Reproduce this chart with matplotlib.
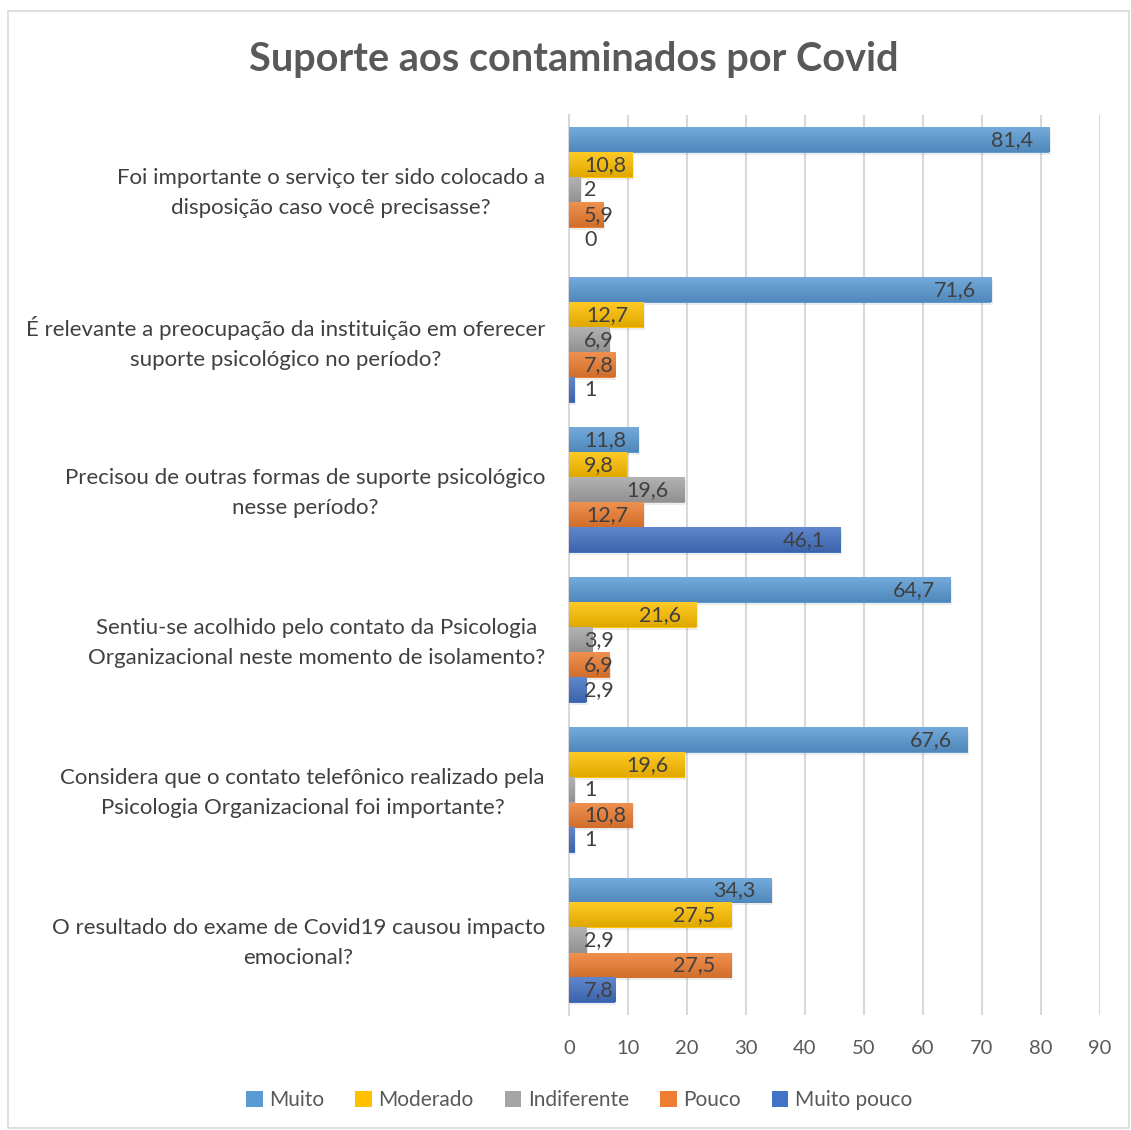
import numpy as np
import matplotlib.pyplot as plt
import matplotlib.colors as mcolors
import matplotlib.transforms as mtransforms
from matplotlib.patches import Rectangle

plt.rcParams['font.family'] = ['Lato', 'DejaVu Sans']

categories = [
    "Foi importante o serviço ter sido colocado a\ndisposição caso você precisasse?",
    "É relevante a preocupação da instituição em oferecer\nsuporte psicológico no período?",
    "Precisou de outras formas de suporte psicológico\nnesse período?",
    "Sentiu-se acolhido pelo contato da Psicologia\nOrganizacional neste momento de isolamento?",
    "Considera que o contato telefônico realizado pela\nPsicologia Organizacional foi importante?",
    "O resultado do exame de Covid19 causou impacto\nemocional?",
]
series = ["Muito", "Moderado", "Indiferente", "Pouco", "Muito pouco"]
muito = [81.4, 71.6, 11.8, 64.7, 67.6, 34.3]
moderado = [10.8, 12.7, 9.8, 21.6, 19.6, 27.5]
indiferente = [2, 6.9, 19.6, 3.9, 1, 2.9]
pouco = [5.9, 7.8, 12.7, 6.9, 10.8, 27.5]
muito_pouco = [0, 1, 46.1, 2.9, 1, 7.8]
values = [muito, moderado, indiferente, pouco, muito_pouco]
colors = ["#5B9BD5", "#FFC000", "#A5A5A5", "#ED7D31", "#4472C4"]

W, H = 1131, 1130
fig = plt.figure(figsize=(W / 100, H / 100), dpi=100)
ax = fig.add_axes([569 / W, 1 - 1015 / H, 531 / W, 900 / H])

# chart border
fig.patches.append(Rectangle((8 / W, 2 / H), 1121 / W, 1117 / H, transform=fig.transFigure,
                             fill=False, edgecolor="#D9D9D9", linewidth=1.2))

y = np.arange(len(categories))
h = 1 / 6

def gradient(color):
    c = np.array(mcolors.to_rgb(color))
    top = c + (1 - c) * 0.15
    bot = c * 0.88
    t = np.linspace(0, 1, 32)[:, None]
    return (top * (1 - t) + bot * t)[:, None, :]

for j, (name, vals, col) in enumerate(zip(series, values, colors)):
    pos = y + (j - 2) * h
    # soft shadow
    ax.barh(pos + 0.015, vals, height=h, left=0.25, color="#000000", alpha=0.07,
            zorder=2, linewidth=0)
    bars = ax.barh(pos, vals, height=h, color=col, label=name, zorder=3, linewidth=0)
    img = gradient(col)
    for b in bars:
        x0, y0 = b.get_x(), b.get_y()
        if b.get_width() <= 0:
            continue
        ax.imshow(img, extent=(x0, x0 + b.get_width(), y0 + h, y0), aspect="auto",
                  zorder=3.5, interpolation="bilinear")

ax.set_xlim(0, 90)
ax.set_ylim(5.5, -0.5)

fig.canvas.draw()
renderer = fig.canvas.get_renderer()
inv = ax.transData.inverted()
for j, vals in enumerate(values):
    pos = y + (j - 2) * h
    for p, v in zip(pos, vals):
        lab = f"{v:g}".replace(".", ",")
        t = ax.text(2.55, p, lab, ha="left", va="center", fontsize=15.5,
                    color="#404040", zorder=5)
        bb = t.get_window_extent(renderer)
        wdata = inv.transform((bb.x1, 0))[0] - inv.transform((bb.x0, 0))[0]
        if 2.55 + wdata < v - 2.7:
            t.set_x(v - 2.7)
            t.set_ha("right")

# category labels (drawn as text so they can be nudged)
ax.set_yticks([])
lab_trans = mtransforms.blended_transform_factory(ax.transAxes, ax.transData) + \
    mtransforms.ScaledTranslation(-24 / 100, -3 / 100, fig.dpi_scale_trans)
for yi, cat in zip(y, categories):
    ax.text(0, yi, cat, transform=lab_trans, ha="right", va="center", fontsize=16,
            color="#404040", multialignment="center", linespacing=1.62)

ax.set_xticks(np.arange(0, 91, 10))
ax.tick_params(axis="x", length=0, pad=18, labelsize=14.5, labelcolor="#595959")
ax.grid(axis="x", color="#D9D9D9", linewidth=1.5, zorder=0)
ax.set_axisbelow(True)
for s in ["top", "right", "bottom"]:
    ax.spines[s].set_visible(False)
ax.spines["left"].set_color("#D9D9D9")
ax.spines["left"].set_linewidth(1.5)

fig.text(574 / W, 1 - 60 / H, "Suporte aos contaminados por Covid", ha="center", va="center",
         fontsize=28.5, fontweight="bold", color="#595959")

handles, labels = ax.get_legend_handles_labels()
leg = fig.legend(handles, labels, loc="center", bbox_to_anchor=(579 / W, 1 - 1100 / H), ncol=5,
                 frameon=False, fontsize=15, handlelength=0.8, handleheight=0.8,
                 handletextpad=0.3, columnspacing=1.5)
for txt in leg.get_texts():
    txt.set_color("#595959")

fig.savefig("out.png", dpi=100)
